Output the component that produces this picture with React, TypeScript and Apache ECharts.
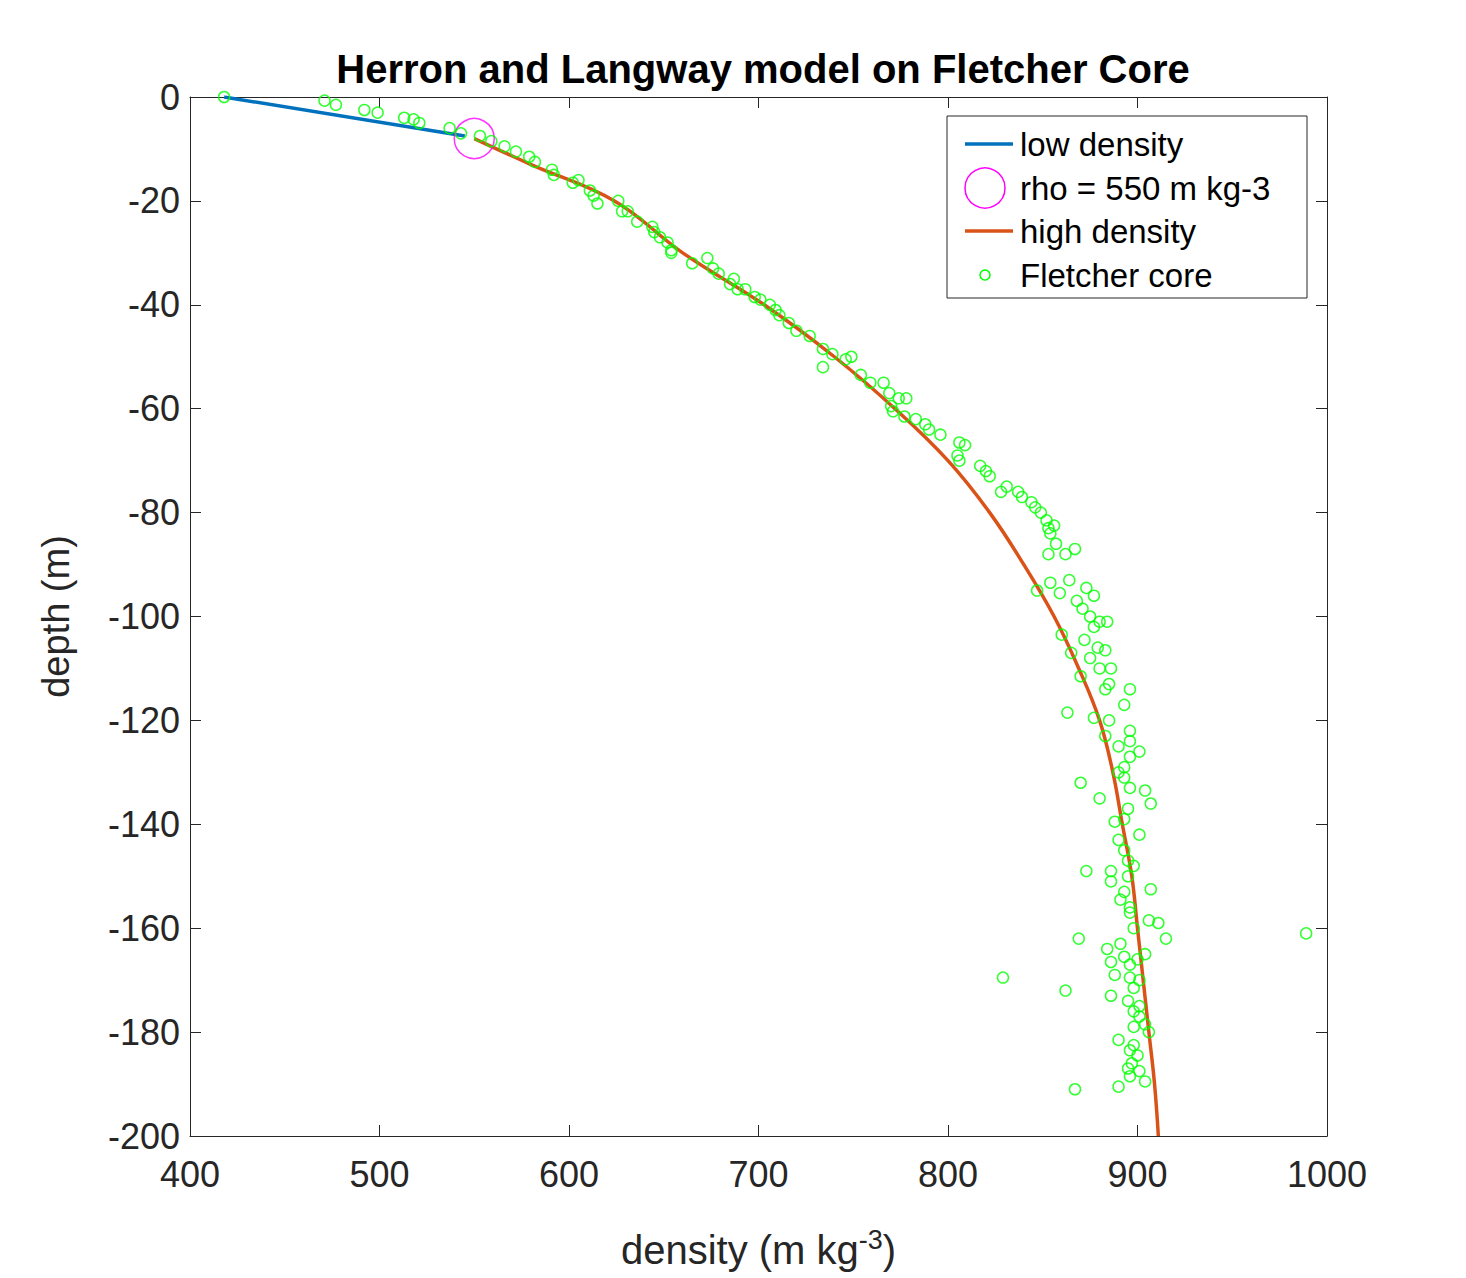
import { useEffect, useRef } from 'react';
import * as echarts from 'echarts';

// Herron & Langway model
const lowDensity: [number, number][] = [[418, 0], [545, -7.5]];
const criticalPoint: [number, number][] = [[550, -8]];
const highDensity: [number, number][] = [
  [550, -8], [580, -13], [624, -20], [660, -30], [703, -40], [740, -50], [772, -60],
  [800, -70], [822, -80], [840, -90], [856, -100], [869, -110], [880, -120], [887, -130],
  [892, -140], [897, -150], [900, -160], [903, -170], [906, -180], [909, -190], [911, -200],
];
const fletcherCore: [number, number][] = [
  [418, 0], [471, -0.7], [477, -1.5], [492, -2.5], [499, -3], [513, -4], [518, -4.3], [521, -5],
  [537, -6], [543, -7], [553, -7.5], [559, -8.5], [566, -9.5], [572, -10.5], [579, -11.5], [582, -12.5],
  [591, -14], [592, -15], [602, -16.5], [605, -16], [611, -18], [613, -19], [615, -20.5], [626, -20],
  [628, -22], [631, -22], [636, -24], [644, -25], [645, -26], [648, -27], [652, -28], [654, -29.5],
  [654, -30], [665, -32], [673, -31], [676, -33], [679, -34], [685, -36], [687, -35], [689, -37],
  [693, -37], [698, -38.5], [701, -39], [706, -40], [709, -41], [711, -42], [716, -43.5], [720, -45],
  [727, -46], [734, -48.5], [739, -49.5], [746, -50.5], [749, -50], [734, -52], [754, -53.5], [759, -55],
  [766, -55], [769, -57], [774, -58], [778, -58], [770, -59.5], [771, -60.5], [777, -61.5], [783, -62],
  [788, -63], [790, -64], [796, -65], [806, -66.5], [809, -67], [805, -69], [806, -70], [817, -71],
  [820, -72], [822, -73], [831, -75], [828, -76], [837, -76], [839, -77], [844, -78], [846, -79],
  [849, -80], [852, -81.5], [853, -83], [856, -82.5], [854, -84], [857, -86], [853, -88], [862, -88],
  [867, -87], [864, -93], [854, -93.5], [847, -95], [859, -95.5], [873, -94.5], [868, -97], [877, -96],
  [871, -98.5], [875, -100], [877, -102], [880, -101], [884, -101], [860, -103.5], [872, -104.5], [879, -106],
  [883, -106.5], [865, -107], [875, -108], [880, -110], [886, -110], [870, -111.5], [885, -113], [883, -114],
  [896, -114], [893, -117], [863, -118.5], [877, -119.5], [885, -120], [896, -122], [883, -123], [896, -124],
  [890, -125], [901, -126], [896, -127], [893, -129], [890, -130], [893, -131], [870, -132], [896, -133],
  [904, -133.5], [880, -135], [907, -136], [895, -137], [893, -139], [888, -139.5], [901, -142], [890, -143],
  [893, -145], [895, -147], [898, -148], [886, -149], [873, -149], [895, -150], [886, -151], [907, -152.5],
  [893, -153], [891, -154.5], [896, -156], [896, -157], [906, -158.5], [911, -159], [898, -160], [915, -162],
  [989, -161], [869, -162], [891, -163], [884, -164], [904, -165], [893, -165.5], [886, -166.5], [896, -167],
  [900, -166], [888, -169], [829, -169.5], [896, -169.5], [901, -170], [898, -171.5], [862, -172], [886, -173],
  [895, -174], [901, -175], [898, -176], [901, -177], [904, -178.5], [898, -179], [906, -180], [890, -181.5],
  [898, -182.5], [896, -183.5], [900, -184.5], [897, -186], [895, -187], [901, -187.5], [896, -188.5], [904, -189.5],
  [890, -190.5], [867, -191],
];
const legendNames = ['low density', 'rho = 550 m kg-3', 'high density', 'Fletcher core'];

const font = 'Helvetica, "Liberation Sans", Arial, sans-serif';

export default function App() {
  const chartRef = useRef<HTMLDivElement>(null);

  useEffect(() => {
    if (!chartRef.current) return;
    const chart = echarts.init(chartRef.current, null, { renderer: 'svg' });

    const axisCommon = {
      axisLine: { show: true, onZero: false, lineStyle: { color: '#262626', width: 1 } },
      axisTick: { show: true, inside: true, length: 11, lineStyle: { color: '#262626' } },
      splitLine: { show: false },
    };

    // hand-drawn MATLAB-style legend box
    const rowY = [144, 188, 231, 275];
    const legend: any[] = [
      { type: 'rect', shape: { x: 947, y: 116, width: 360, height: 182 }, style: { fill: '#fff', stroke: '#262626', lineWidth: 1 }, z: 10 },
      { type: 'line', shape: { x1: 965, y1: rowY[0], x2: 1013, y2: rowY[0] }, style: { stroke: '#0072BD', lineWidth: 3.5 }, z: 11 },
      { type: 'circle', shape: { cx: 985, cy: rowY[1], r: 20 }, style: { fill: 'none', stroke: '#FF00FF', lineWidth: 1.5 }, z: 11 },
      { type: 'line', shape: { x1: 965, y1: rowY[2], x2: 1013, y2: rowY[2] }, style: { stroke: '#D95319', lineWidth: 3.5 }, z: 11 },
      { type: 'circle', shape: { cx: 985, cy: rowY[3], r: 5 }, style: { fill: 'none', stroke: '#00FF00', lineWidth: 1.5 }, z: 11 },
      ...legendNames.map((n, i) => ({
        type: 'text', x: 1020, y: rowY[i], z: 11,
        style: { text: n, fontSize: 33, fontFamily: font, fill: '#000', textVerticalAlign: 'middle' },
      })),
    ];

    const option: echarts.EChartsOption = {
      animation: false,
      backgroundColor: '#fff',
      textStyle: { fontFamily: font },
      title: {
        text: 'Herron and Langway model on Fletcher Core',
        left: 758, top: 44, textAlign: 'center',
        textStyle: { fontSize: 40, fontWeight: 'bold', color: '#000', fontFamily: font },
      },
      grid: { left: 190, top: 97, width: 1137, height: 1039 },
      graphic: legend,
      xAxis: [
        {
          ...axisCommon, type: 'value', min: 400, max: 1000, interval: 100, position: 'bottom',
          axisLabel: { fontSize: 36, color: '#262626', margin: 20, formatter: (v: number) => String(v) },
          name: '{a|density (m kg}{s|-3}{a|)}', nameLocation: 'middle', nameGap: 90,
          nameTextStyle: { rich: { a: { fontSize: 40, color: '#262626' }, s: { fontSize: 27, color: '#262626', verticalAlign: 'top', padding: [0, 0, 20, 0] } } },
        },
        { ...axisCommon, type: 'value', min: 400, max: 1000, interval: 100, position: 'top', axisLabel: { show: false } },
      ],
      yAxis: [
        {
          ...axisCommon, type: 'value', min: -200, max: 0, interval: 20, position: 'left',
          axisLabel: { fontSize: 36, color: '#262626', margin: 10 },
          name: 'depth (m)', nameLocation: 'middle', nameGap: 115, nameRotate: 90,
          nameTextStyle: { fontSize: 38, color: '#262626' },
        },
        { ...axisCommon, type: 'value', min: -200, max: 0, interval: 20, position: 'right', axisLabel: { show: false } },
      ],
      series: [
        {
          name: legendNames[0], type: 'line', data: lowDensity, showSymbol: false, symbol: 'none',
          lineStyle: { color: '#0072BD', width: 3.5 }, z: 3,
        },
        {
          name: legendNames[1], type: 'scatter', data: criticalPoint, symbol: 'circle', symbolSize: 40,
          itemStyle: { color: 'transparent', borderColor: '#FF00FF', borderWidth: 1.5 }, z: 4,
        },
        {
          name: legendNames[2], type: 'line', data: highDensity, showSymbol: false, symbol: 'none', smooth: 0.4,
          lineStyle: { color: '#D95319', width: 3.5 }, z: 3,
        },
        {
          name: legendNames[3], type: 'scatter', data: fletcherCore, symbol: 'circle', symbolSize: 11,
          itemStyle: { color: 'transparent', borderColor: '#00FF00', borderWidth: 1.5 }, z: 5,
        },
      ],
    };

    chart.setOption(option);
    return () => chart.dispose();
  }, []);

  return <div ref={chartRef} style={{ position: 'absolute', left: 0, top: 0, width: 1466, height: 1278 }} />;
}
